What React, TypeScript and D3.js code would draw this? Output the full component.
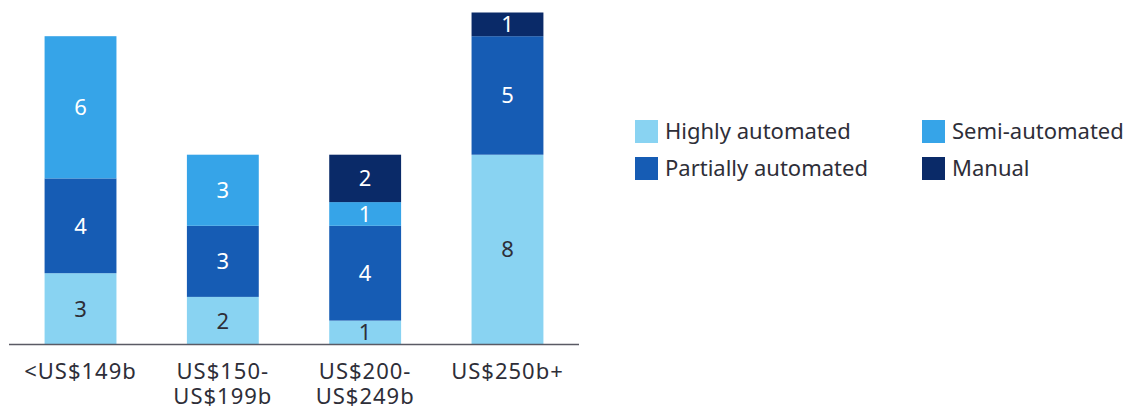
import React from "react";
import * as d3 from "d3";

const categories = [["<US$149b"], ["US$150-", "US$199b"], ["US$200-", "US$249b"], ["US$250b+"]];
const seriesNames = ["Highly automated", "Partially automated", "Semi-automated", "Manual"];
const highly = [3, 2, 1, 8];
const partially = [4, 3, 4, 5];
const semi = [6, 3, 1, 0];
const manual = [0, 0, 2, 1];
const colors = ["#89D3F2", "#165CB4", "#36A4E8", "#0A2A68"];
const labelColors = ["#2E2E38", "#FFFFFF", "#FFFFFF", "#FFFFFF"];

const W = 1133;
const H = 409;
const FONT = "'Noto Sans', sans-serif";
const TEXT = "#2E2E38";

export default function App() {
  const keys = categories.map((c) => c.join(" "));
  const rows = keys.map((k, i) => ({
    key: k,
    s0: highly[i],
    s1: partially[i],
    s2: semi[i],
    s3: manual[i],
  }));
  const stack = d3.stack<any>().keys(["s0", "s1", "s2", "s3"]);
  const series = stack(rows);

  const x = d3.scaleBand().domain(keys).range([9, 579]).paddingInner(0.495).paddingOuter(0.25);
  const y = d3.scaleLinear().domain([0, 14]).range([344.3, 12.5]);

  const legendItems = [
    { name: seriesNames[0], color: colors[0], x: 635, y: 120 },
    { name: seriesNames[2], color: colors[2], x: 922, y: 120 },
    { name: seriesNames[1], color: colors[1], x: 635, y: 157 },
    { name: seriesNames[3], color: colors[3], x: 922, y: 157 },
  ];

  return (
    <svg width={W} height={H} style={{ position: "absolute", left: 0, top: 0, display: "block" }} fontFamily={FONT}>
      <rect width={W} height={H} fill="#fff" />
      {series.map((s, si) =>
        s.map((d, i) => {
          const v = d[1] - d[0];
          if (v <= 0) return null;
          const x0 = x(keys[i])!;
          const y0 = y(d[1]);
          const y1 = y(d[0]);
          return (
            <g key={`${si}-${i}`}>
              <rect x={x0} y={y0} width={x.bandwidth()} height={y1 - y0} fill={colors[si]} />
              <text
                x={x0 + x.bandwidth() / 2}
                y={(y0 + y1) / 2}
                dy="0.36em"
                textAnchor="middle"
                fontSize={22}
                fill={labelColors[si]}
              >
                {v}
              </text>
            </g>
          );
        })
      )}
      <line x1={9} x2={579} y1={344.5} y2={344.5} stroke="#5A5A64" strokeWidth={1.5} />
      {categories.map((lines, i) =>
        lines.map((l, j) => (
          <text
            key={`${i}-${j}`}
            textAnchor="middle"
            fontSize={22}
            letterSpacing={1}
            fill={TEXT}
            x={x(keys[i])! + x.bandwidth() / 2}
            y={379 + j * 25}
          >
            {l}
          </text>
        ))
      )}
      {legendItems.map((it, i) => (
        <g key={i}>
          <rect x={it.x} y={it.y} width={23} height={23} fill={it.color} />
          <text x={it.x + 30} y={it.y + 19} fontSize={22} fill={TEXT}>
            {it.name}
          </text>
        </g>
      ))}
    </svg>
  );
}
